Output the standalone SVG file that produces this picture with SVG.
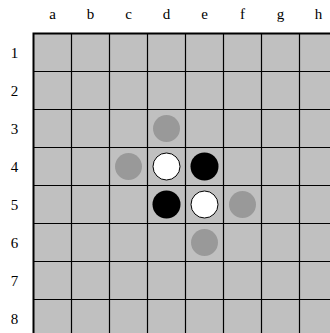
<svg xmlns="http://www.w3.org/2000/svg" width="330" height="333" viewBox="0 0 330 333">
<style>
text{font-family:"Liberation Serif","Times New Roman",serif;font-size:15px;fill:#000;text-anchor:middle}
.cell{fill:#c0c0c0;stroke:#000;stroke-width:1.2}
.g{fill:#999}
.w{fill:#fff;stroke:#000;stroke-width:1}
.b{fill:#000}
</style>
<rect width="330" height="333" fill="#fff"/>
<g id="board">
<rect x="33.5" y="33.5" width="304" height="304" fill="#c0c0c0" stroke="#000" stroke-width="2"/>
<path d="M71.5 33.5V337.5M109.5 33.5V337.5M147.5 33.5V337.5M185.5 33.5V337.5M223.5 33.5V337.5M261.5 33.5V337.5M299.5 33.5V337.5M33.5 71.5H337.5M33.5 109.5H337.5M33.5 147.5H337.5M33.5 185.5H337.5M33.5 223.5H337.5M33.5 261.5H337.5M33.5 299.5H337.5" stroke="#000" stroke-width="1.2" fill="none"/>
</g>
<g id="labels">
<text x="52.5" y="19">a</text><text x="90.5" y="19">b</text><text x="128.5" y="19">c</text><text x="166.5" y="19">d</text><text x="204.5" y="19">e</text><text x="242.5" y="19">f</text><text x="280.5" y="19">g</text><text x="318.5" y="19">h</text>
<text x="14.5" y="58">1</text><text x="14.5" y="96">2</text><text x="14.5" y="134">3</text><text x="14.5" y="172">4</text><text x="14.5" y="210">5</text><text x="14.5" y="248">6</text><text x="14.5" y="286">7</text><text x="14.5" y="324">8</text>
</g>
<g id="discs">
<circle id="d3" class="g" cx="166.5" cy="128.5" r="13.5"/>
<circle id="c4" class="g" cx="128.5" cy="166.5" r="13.5"/>
<circle id="f5" class="g" cx="242.5" cy="204.5" r="13.5"/>
<circle id="e6" class="g" cx="204.5" cy="242.5" r="13.5"/>
<circle id="d4" class="w" cx="166.5" cy="166.5" r="13.5"/>
<circle id="e5" class="w" cx="204.5" cy="204.5" r="13.5"/>
<circle id="e4" class="b" cx="204.5" cy="166.5" r="14"/>
<circle id="d5" class="b" cx="166.5" cy="204.5" r="14"/>
</g>
</svg>
